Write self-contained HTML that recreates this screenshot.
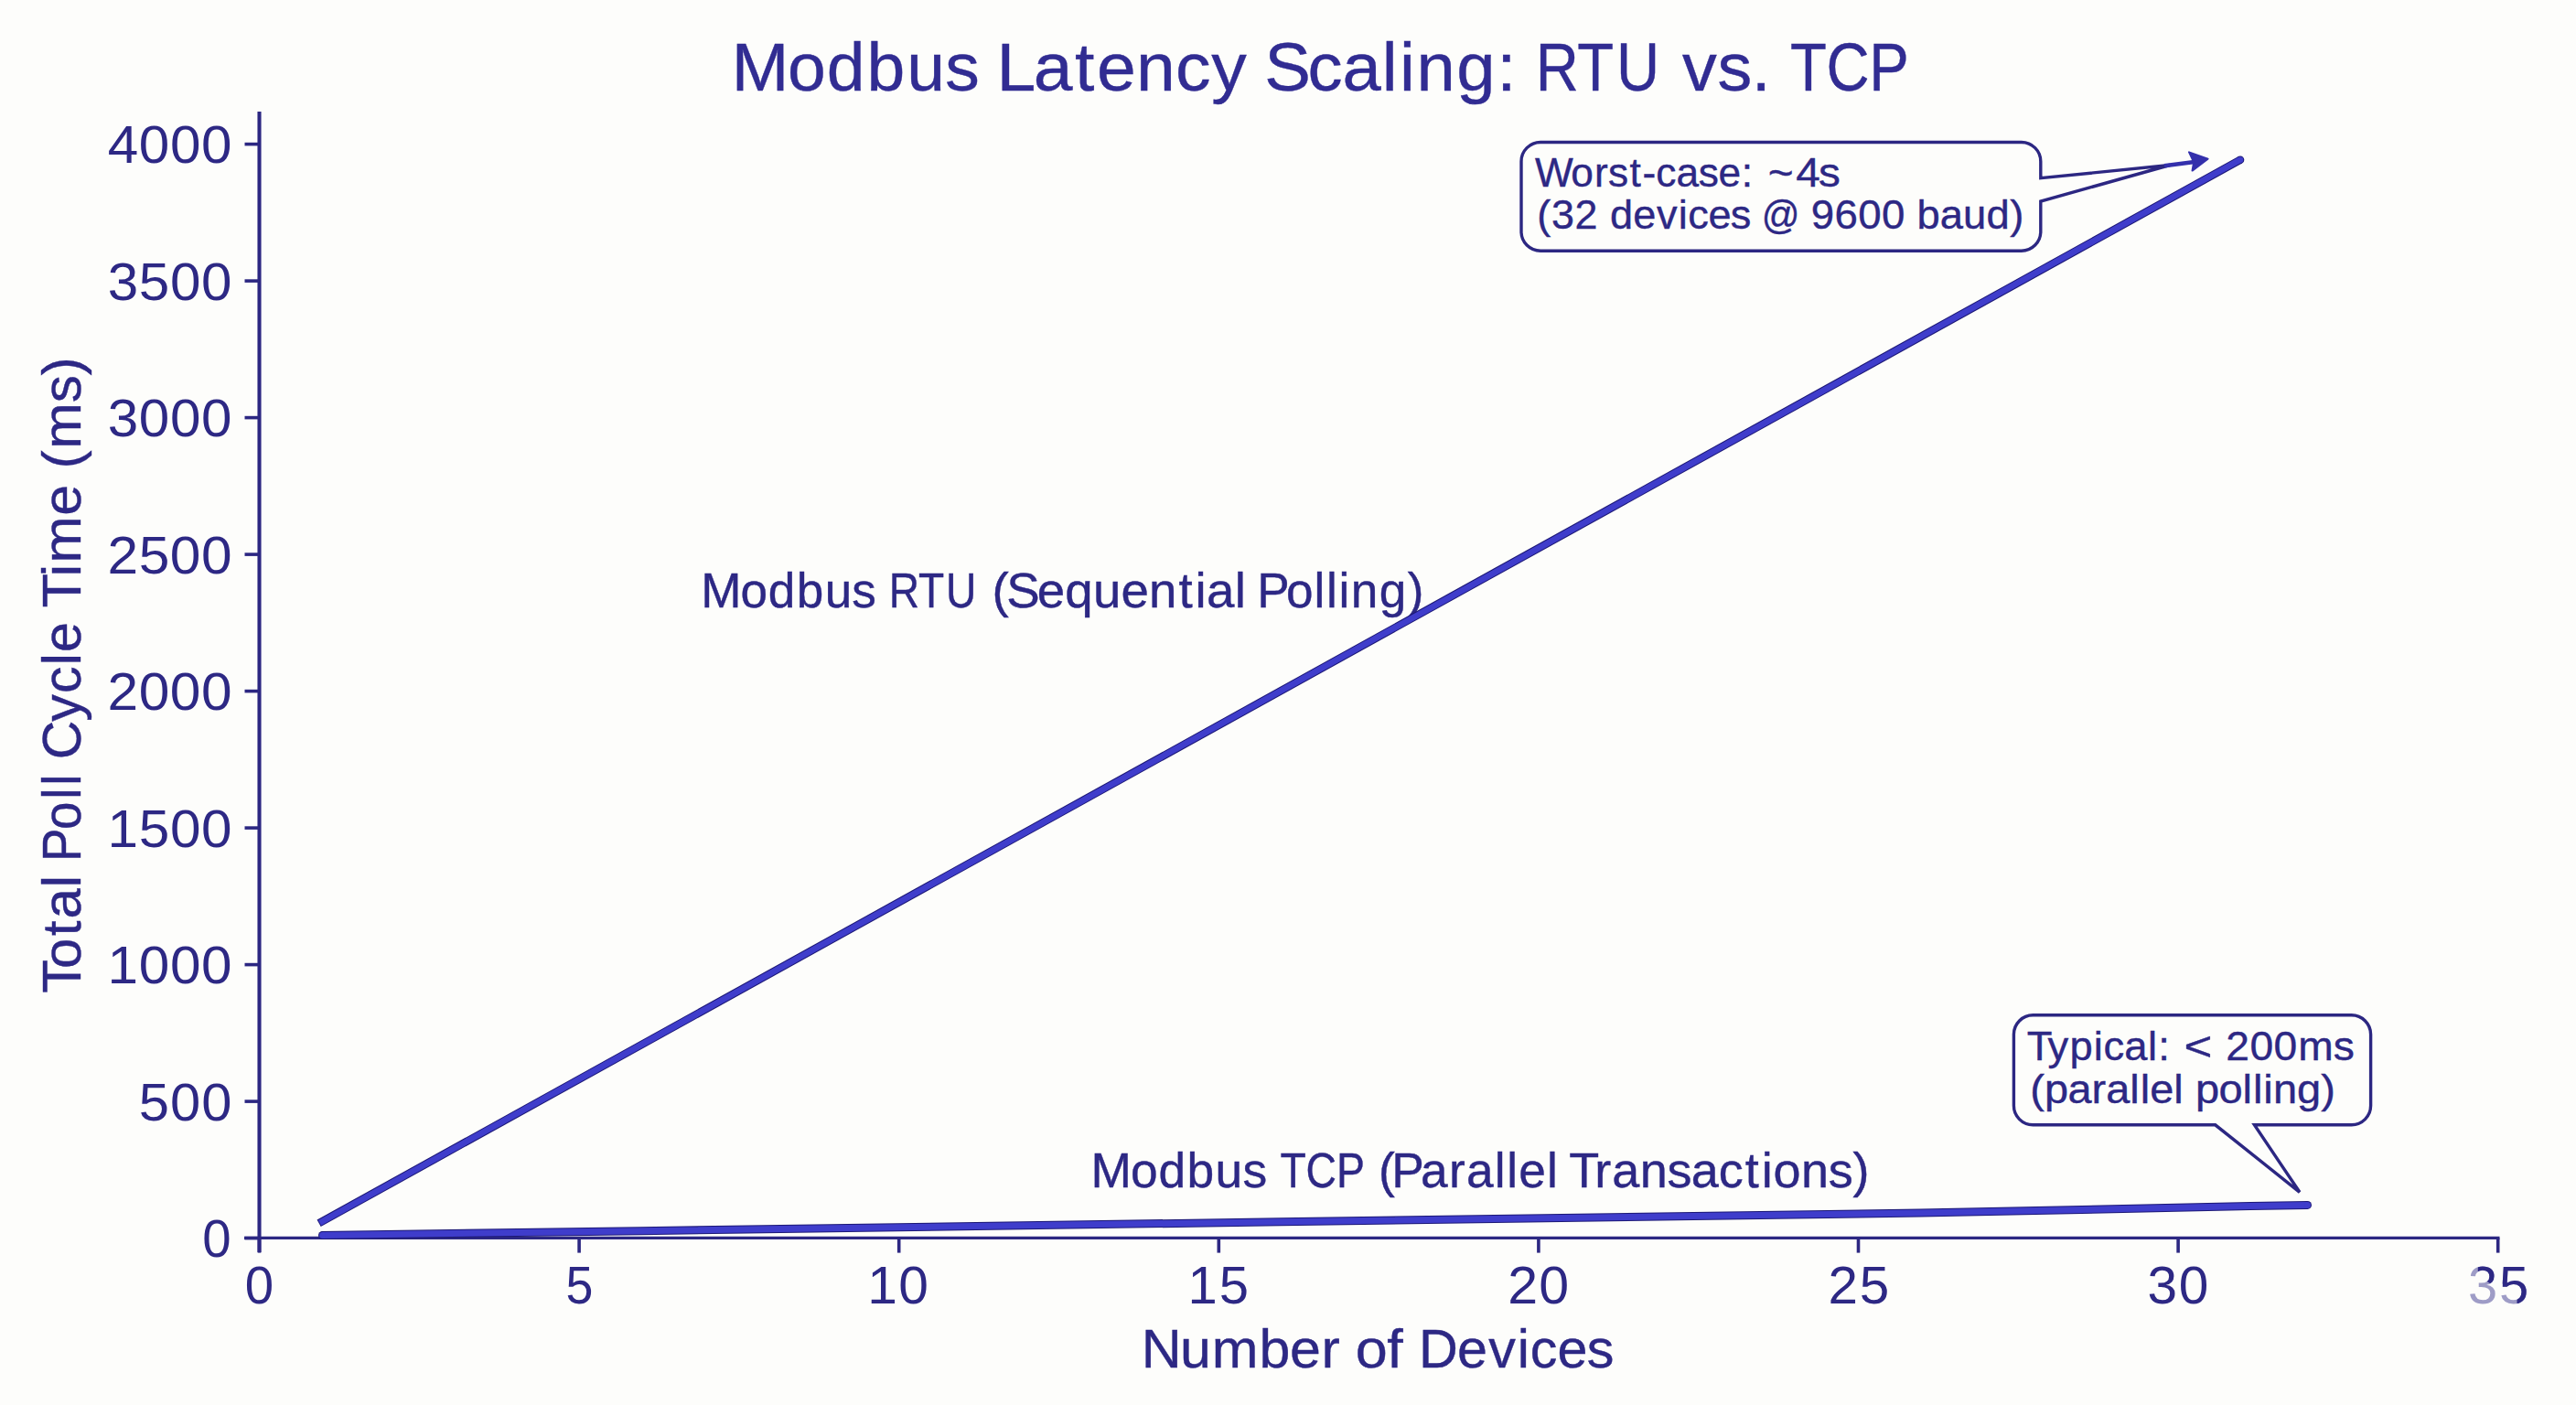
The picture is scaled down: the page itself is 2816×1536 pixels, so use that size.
<!DOCTYPE html><html><head><meta charset="utf-8"><title>Modbus Latency Scaling</title><style>html,body{margin:0;padding:0;background:#fdfdfb;overflow:hidden}svg{display:block}text{font-family:"Liberation Sans",sans-serif}</style></head><body>
<svg width="2816" height="1536" viewBox="0 0 2816 1536">
<rect width="2816" height="1536" fill="#fdfdfb"/>
<g stroke="#2c2782" fill="none">
<line x1="283.50" y1="121.9" x2="283.50" y2="1369" stroke-width="4.1"/>
<line x1="267" y1="1353.4" x2="2732.50" y2="1353.4" stroke-width="3.4"/>
<line x1="267.50" y1="1353.60" x2="283.50" y2="1353.60" stroke-width="3.6"/>
<line x1="267.50" y1="1204.10" x2="283.50" y2="1204.10" stroke-width="3.6"/>
<line x1="267.50" y1="1054.60" x2="283.50" y2="1054.60" stroke-width="3.6"/>
<line x1="267.50" y1="905.10" x2="283.50" y2="905.10" stroke-width="3.6"/>
<line x1="267.50" y1="755.60" x2="283.50" y2="755.60" stroke-width="3.6"/>
<line x1="267.50" y1="606.10" x2="283.50" y2="606.10" stroke-width="3.6"/>
<line x1="267.50" y1="456.60" x2="283.50" y2="456.60" stroke-width="3.6"/>
<line x1="267.50" y1="307.10" x2="283.50" y2="307.10" stroke-width="3.6"/>
<line x1="267.50" y1="157.60" x2="283.50" y2="157.60" stroke-width="3.6"/>
<line x1="283.50" y1="1353.60" x2="283.50" y2="1369.60" stroke-width="3.6"/>
<line x1="633.10" y1="1353.60" x2="633.10" y2="1369.60" stroke-width="3.6"/>
<line x1="982.70" y1="1353.60" x2="982.70" y2="1369.60" stroke-width="3.6"/>
<line x1="1332.30" y1="1353.60" x2="1332.30" y2="1369.60" stroke-width="3.6"/>
<line x1="1681.90" y1="1353.60" x2="1681.90" y2="1369.60" stroke-width="3.6"/>
<line x1="2031.50" y1="1353.60" x2="2031.50" y2="1369.60" stroke-width="3.6"/>
<line x1="2381.10" y1="1353.60" x2="2381.10" y2="1369.60" stroke-width="3.6"/>
<line x1="2730.70" y1="1353.60" x2="2730.70" y2="1369.60" stroke-width="3.6"/>
</g>
<defs><clipPath id="c35"><path d="M2708.8,1370 H2736 V1403.5 H2722.5 L2717.5,1400 L2708.8,1393 Z M2736,1370 H2775 V1440 H2751.5 V1413.5 H2736 Z"/></clipPath></defs>
<g fill="#2d2884">
<text transform="matrix(0.97020 0 0 1 0 1374.18)" x="227.98" font-size="58.19">0</text>
<text transform="matrix(1.02657 0 0 1 0 1224.68)" x="147.92 181.18 214.44" font-size="58.19">500</text>
<text transform="matrix(1.03581 0 0 1 0 1075.18)" x="113.56 146.52 179.48 212.44" font-size="58.19">1000</text>
<text transform="matrix(1.03581 0 0 1 0 925.68)" x="113.56 146.52 179.48 212.44" font-size="58.19">1500</text>
<text transform="matrix(1.03879 0 0 1 0 776.18)" x="113.19 146.05 178.92 211.79" font-size="58.19">2000</text>
<text transform="matrix(1.03879 0 0 1 0 626.68)" x="113.19 146.05 178.92 211.79" font-size="58.19">2500</text>
<text transform="matrix(1.03395 0 0 1 0 477.18)" x="113.79 146.81 179.83 212.85" font-size="58.19">3000</text>
<text transform="matrix(1.03395 0 0 1 0 327.68)" x="113.79 146.81 179.83 212.85" font-size="58.19">3500</text>
<text transform="matrix(1.03505 0 0 1 0 178.18)" x="113.66 146.64 179.62 212.61" font-size="58.19">4000</text>
<text transform="matrix(0.97020 0 0 1 0 1424.88)" x="276.06" font-size="58.19">0</text>
<text transform="matrix(0.92217 0 0 1 0 1424.59)" x="670.68" font-size="58.19">5</text>
<text transform="matrix(1.00978 0 0 1 0 1424.88)" x="938.97 972.77" font-size="58.19">10</text>
<text transform="matrix(0.99632 0 0 1 0 1424.59)" x="1303.30 1337.57" font-size="58.19">15</text>
<text transform="matrix(1.01664 0 0 1 0 1424.88)" x="1621.20 1654.78" font-size="58.19">20</text>
<text transform="matrix(1.00354 0 0 1 0 1424.88)" x="1991.47 2025.49" font-size="58.19">25</text>
<text transform="matrix(1.00682 0 0 1 0 1424.88)" x="2331.64 2365.55" font-size="58.19">30</text>
<text transform="matrix(0.99380 0 0 1 0 1424.88)" x="2714.72 2749.07" font-size="58.19" fill="#9e9cc6">35</text>
<g clip-path="url(#c35)">
<text transform="matrix(0.99380 0 0 1 0 1424.88)" x="2714.72 2749.07" font-size="58.19">35</text>
</g>
</g><g fill="#2d2884" stroke="#2d2884" stroke-width="0.4">
<g fill="#312c92" stroke="#312c92">
<text transform="matrix(1.01482 0 0 1 0 98.60)" x="788.07 848.35 890.65 933.73 976.78 1018.04" font-size="73.98">Modbus</text>
<text transform="matrix(1.04117 0 0 1 0 98.60)" x="1046.42 1085.11 1128.65 1151.66 1192.98 1234.21 1271.96" font-size="73.98">Latency</text>
<text transform="matrix(1.02756 0 0 1 0 98.60)" x="1345.29 1391.16 1428.05 1470.25 1488.88 1507.07 1549.58 1592.44" font-size="73.98">Scaling:</text>
<text transform="matrix(0.88141 0 0 1 0 98.60)" x="1904.74 1956.35 2004.70" font-size="73.98">RTU</text>
<text transform="matrix(1.02166 0 0 1 0 98.60)" x="1800.11 1837.62 1874.11" font-size="73.98">vs.</text>
<text transform="matrix(0.88257 0 0 1 0 98.60)" x="2217.52 2262.19 2315.01" font-size="73.98">TCP</text>
</g>
<text transform="matrix(1.04003 0 0 1 0 1494.80)" x="1199.71 1240.29 1273.75 1323.45 1355.77 1388.83" font-size="58.58">Number</text>
<text transform="matrix(1.07387 0 0 1 0 1494.80)" x="1379.76 1412.04" font-size="58.58">of</text>
<text transform="matrix(1.01139 0 0 1 0 1494.80)" x="1533.49 1575.18 1608.91 1640.17 1654.03 1683.36 1715.21" font-size="58.58">Devices</text>
<text transform="matrix(1.00396 0 0 1 0 663.60)" x="763.20 806.30 836.56 867.36 898.15 927.66" font-size="52.91">Modbus</text>
<text transform="matrix(0.87198 0 0 1 0 663.60)" x="1114.37 1151.28 1185.86" font-size="52.91">RTU</text>
<text transform="matrix(1.03388 0 0 1 0 663.60)" x="1048.89 1064.21 1096.60 1126.05 1155.94 1185.38 1214.81 1246.35 1263.61 1275.76 1305.58" font-size="52.91">(Sequential</text>
<text transform="matrix(1.00456 0 0 1 0 663.60)" x="1368.00 1399.53 1429.94 1443.42 1456.90 1470.17 1500.93 1531.69" font-size="52.91">Polling)</text>
<text transform="matrix(1.01146 0 0 1 0 1297.80)" x="1178.98 1221.97 1252.14 1282.87 1313.56 1342.99" font-size="52.76">Modbus</text>
<text transform="matrix(0.87965 0 0 1 0 1297.80)" x="1590.85 1622.71 1660.85" font-size="52.76">TCP</text>
<text transform="matrix(1.01041 0 0 1 0 1297.80)" x="1491.49 1505.65 1536.94 1567.63 1586.55 1616.94 1630.40 1643.22 1673.67" font-size="52.76">(Parallel</text>
<text transform="matrix(1.02313 0 0 1 0 1297.80)" x="1676.46 1703.75 1722.36 1752.18 1781.29 1806.94 1836.23 1864.63 1882.12 1894.60 1924.40 1953.50 1979.71" font-size="52.76">Transactions)</text>
<text transform="translate(87.80 0) rotate(-90) scale(1.00474 1)" x="-1080.57 -1053.89 -1018.53 -999.77 -965.80" font-size="59.74">Total</text>
<text transform="translate(87.80 0) rotate(-90) scale(0.91821 1)" x="-1025.82 -987.74 -951.53 -935.16" font-size="59.74">Poll</text>
<text transform="translate(87.80 0) rotate(-90) scale(0.98919 1)" x="-839.36 -797.42 -766.17 -735.23 -720.76" font-size="59.74">Cycle</text>
<text transform="translate(87.80 0) rotate(-90) scale(1.02598 1)" x="-647.72 -614.59 -599.80 -549.59" font-size="59.74">Time</text>
<text transform="translate(87.80 0) rotate(-90) scale(1.01475 1)" x="-505.05 -483.59 -433.75 -404.46" font-size="59.74">(ms)</text>
</g>
<circle cx="2449.00" cy="174.70" r="4.30" fill="#1c1875"/><path d="M348.63,1337.28 L2449.00,174.70" fill="none" stroke="#1c1875" stroke-width="8.6" stroke-linecap="butt" stroke-linejoin="round"/><path d="M349.50,1336.80 L2449.00,174.70" fill="none" stroke="#3f3dcb" stroke-width="6.6" stroke-linecap="butt" stroke-linejoin="round"/><circle cx="2449.00" cy="174.70" r="3.30" fill="#3f3dcb"/>
<circle cx="352.50" cy="1350.50" r="4.50" fill="#1c1875"/><circle cx="2522.50" cy="1317.40" r="4.50" fill="#1c1875"/><path d="M351.50,1350.51 L700.00,1345.70 L1400.00,1335.80 L2100.00,1326.00 L2460.00,1318.60 L2522.50,1317.40" fill="none" stroke="#1c1875" stroke-width="9.0" stroke-linecap="butt" stroke-linejoin="round"/><path d="M352.50,1350.50 L700.00,1345.70 L1400.00,1335.80 L2100.00,1326.00 L2460.00,1318.60 L2522.50,1317.40" fill="none" stroke="#3f3dcb" stroke-width="7.0" stroke-linecap="butt" stroke-linejoin="round"/><circle cx="2522.50" cy="1317.40" r="3.50" fill="#3f3dcb"/><circle cx="352.50" cy="1350.50" r="3.50" fill="#3f3dcb"/>
<path d="M1684,155.5 H2209.8 A21,21 0 0 1 2230.8,176.5 V194.7 L2372,180.5 L2230.8,220.1 V253.2 A21,21 0 0 1 2209.8,274.2 H1684 A21,21 0 0 1 1663,253.2 V176.5 A21,21 0 0 1 1684,155.5 Z" fill="#fdfdfb" stroke="#2c2782" stroke-width="3.4"/>
<path d="M2366,181.3 L2399,177" stroke="#3430ac" stroke-width="4.6" fill="none"/>
<path d="M2413.6,173.6 L2393,166.4 L2398.2,177.2 L2396.5,186.6 Z" fill="#3430ac" stroke="#3430ac" stroke-width="2" stroke-linejoin="round"/>
<path d="M2222.4,1109.8 H2570.6 A21,21 0 0 1 2591.6,1130.8 V1208.8 A21,21 0 0 1 2570.6,1229.8 H2464.4 L2513.9,1303.3 L2421.7,1229.8 H2222.4 A21,21 0 0 1 2201.4,1208.8 V1130.8 A21,21 0 0 1 2222.4,1109.8 Z" fill="#fdfdfb" stroke="#2c2782" stroke-width="3.4"/>
<g fill="#2d2884" stroke="#2d2884" stroke-width="0.4">
<text transform="matrix(1.00485 0 0 1 0 203.60)" x="1669.82 1709.00 1734.50 1749.59 1772.86 1786.81 1801.46 1823.63 1847.69 1869.33 1894.62" font-size="44.04">Worst-case:</text>
<text transform="matrix(1.08350 0 0 1 0 203.60)" x="1783.71 1811.85 1834.69" font-size="44.04">~4s</text>
<text transform="matrix(1.01713 0 0 1 0 250.30)" x="1651.89 1667.36 1692.64" font-size="44.04">(32</text>
<text transform="matrix(1.02403 0 0 1 0 250.30)" x="1718.77 1743.43 1768.48 1791.75 1801.96 1823.71 1847.37" font-size="44.04">devices</text>
<text transform="matrix(0.93367 0 0 1 0 250.30)" x="2062.55" font-size="44.04">@</text>
<text transform="matrix(1.03538 0 0 1 0 250.30)" x="1912.18 1937.01 1961.85 1986.67" font-size="44.04">9600</text>
<text transform="matrix(1.03075 0 0 1 0 250.30)" x="2033.03 2057.48 2081.92 2106.78 2131.78" font-size="44.04">baud)</text>
<text transform="matrix(1.03071 0 0 1 0 1158.80)" x="2149.83 2171.91 2195.11 2220.65 2231.03 2252.95 2278.05 2289.08" font-size="44.04">Typical:</text>
<text transform="matrix(1.20182 0 0 1 0 1158.80)" x="1986.49" font-size="44.04">&lt;</text>
<text transform="matrix(1.04939 0 0 1 0 1158.80)" x="2318.81 2343.72 2368.62 2394.04 2430.63" font-size="44.04">200ms</text>
<text transform="matrix(1.06406 0 0 1 0 1205.90)" x="2085.60 2100.38 2124.36 2148.95 2163.71 2188.18 2198.87 2208.67 2233.19" font-size="44.04">(parallel</text>
<text transform="matrix(1.06799 0 0 1 0 1205.90)" x="2247.26 2271.13 2295.52 2306.16 2316.80 2326.90 2351.19 2375.73" font-size="44.04">polling)</text>
</g>
</svg></body></html>
